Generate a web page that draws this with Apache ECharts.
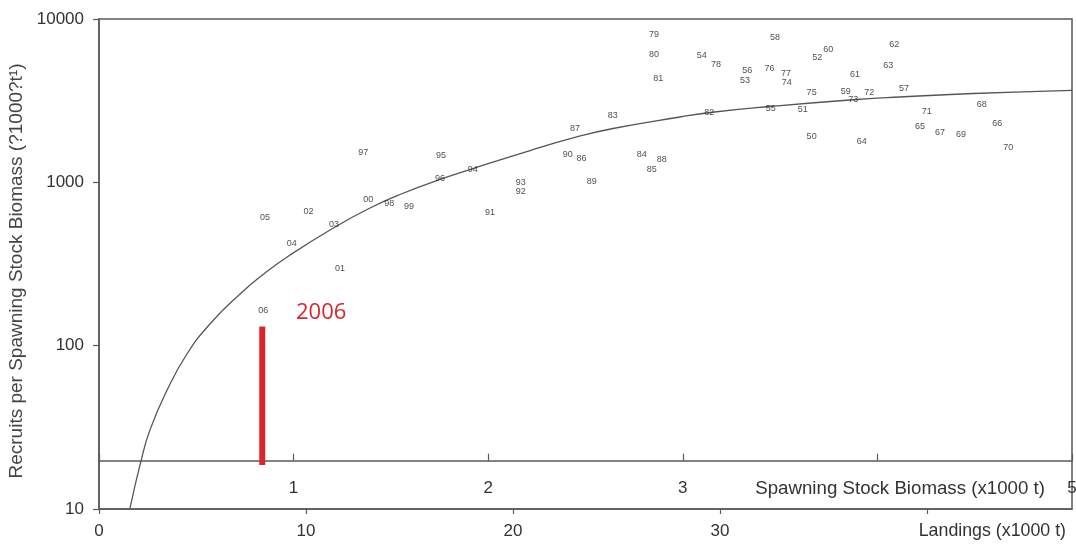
<!DOCTYPE html>
<html>
<head>
<meta charset="utf-8">
<script src="https://cdn.jsdelivr.net/npm/echarts@6/dist/echarts.min.js"></script>
<style>
html,body{margin:0;padding:0;background:#fff;}
#chart{width:1076px;height:544px;}
</style>
</head>
<body>
<div id="chart"></div>
<script>
// Year labels (plotted at Spawning Stock Biomass x1000 t vs Recruits per SSB)
const years = ['50','51','52','53','54','55','56','57','58','59',
               '60','61','62','63','64','65','66','67','68','69',
               '70','71','72','73','74','75','76','77','78','79',
               '80','81','82','83','84','85','86','87','88','89',
               '90','91','92','93','94','95','96','97','98','99',
               '00','01','02','03','04','05','06'];
const ssb = [3.662,3.616,3.691,3.320,3.097,3.452,3.331,4.137,3.474,3.837,
             3.748,3.885,4.087,4.056,3.919,4.219,4.616,4.322,4.536,4.430,
             4.673,4.253,3.958,3.876,3.534,3.662,3.446,3.530,3.171,2.852,
             2.852,2.874,3.136,2.640,2.789,2.840,2.480,2.446,2.892,2.532,
             2.409,2.009,2.167,2.167,1.920,1.757,1.752,1.358,1.492,1.593,
             1.384,1.238,1.076,1.208,0.990,0.853,0.844];
const rps = [1903,2786,5831,4191,5937,2825,4826,3728,7704,3573,
             6526,4541,6934,5157,1774,2191,2298,2013,2988,1949,
             1639,2723,3524,3206,4097,3524,4992,4652,5282,7980,
             6021,4335,2658,2548,1470,1202,1404,2142,1370,1009,
             1470,652,877,995,1202,1450,1059,1519,744,716,
             780,298,661,548,424,611,165];

// Fitted curve
const curveSSB = [0.159,0.216,0.262,0.350,0.452,0.570,0.725,0.853,0.982,1.213,
                  1.393,1.547,1.752,1.922,2.215,2.446,2.641,2.986,3.140,3.448,
                  3.859,4.116,4.491,5.0];
const curveRPS = [10.1,19.7,30.5,53.5,88.9,135.8,207.2,278.5,359.1,532.8,
                  696.5,842.6,1041,1215,1566,1882,2136,2512,2677,2913,
                  3193,3331,3499,3661];

// 2006 red bar
const bar2006SSB = [0.839, 0.839];
const bar2006RPS = [18.6, 131];
const bar2006Label = '2006';

// Axes
const yTicks = [10, 100, 1000, 10000];
const ssbMax = 5;
const landingsMax = 47;
const yTitle = 'Recruits per Spawning Stock Biomass (?1000?t\u00b9)';
const ssbTitle = 'Spawning Stock Biomass (x1000 t)';
const landTitle = 'Landings (x1000 t)';

const FONT = '"Liberation Sans", Arial, sans-serif';
const axisColor = '#5a5a5a';

const chart = echarts.init(document.getElementById('chart'));
const option = {
  animation: false,
  backgroundColor: '#fff',
  grid: {left: 99, right: 4, top: 19, bottom: 35, show: true,
         borderColor: axisColor, borderWidth: 1.5, containLabel: false,
         outerBoundsMode: 'none'},
  xAxis: [
    {
      type: 'value', min: 0, max: ssbMax, interval: 1,
      position: 'bottom', offset: -48.3,
      axisLine: {show: true, onZero: false, lineStyle: {color: axisColor, width: 1.5}},
      axisTick: {show: true, inside: true, length: 7, lineStyle: {color: axisColor, width: 1.2}},
      axisLabel: {
        margin: 19, fontSize: 17, color: '#333', fontFamily: FONT,
        showMaxLabel: true, showMinLabel: true,
        formatter: v => (v === 0 || v === 4) ? '' : String(v)
      },
      splitLine: {show: false}
    },
    {
      type: 'value', min: 0, max: landingsMax, interval: 10,
      position: 'bottom',
      axisLine: {show: true, onZero: false, lineStyle: {color: axisColor, width: 1.5}},
      axisTick: {show: true, length: 5, lineStyle: {color: axisColor, width: 1.2}},
      axisLabel: {
        margin: 14, fontSize: 17, color: '#333', fontFamily: FONT,
        showMaxLabel: false,
        formatter: v => (v === 40) ? '' : String(v)
      },
      splitLine: {show: false}
    }
  ],
  yAxis: {
    type: 'log', logBase: 10, min: yTicks[0], max: yTicks[yTicks.length - 1],
    axisLine: {show: true, onZero: false, lineStyle: {color: axisColor, width: 1.5}},
    axisTick: {show: true, length: 6, lineStyle: {color: axisColor, width: 1.2}},
    axisLabel: {margin: 15, fontSize: 17, color: '#333', fontFamily: FONT,
                formatter: v => String(Math.round(v))},
    splitLine: {show: false},
    minorTick: {show: false},
    name: yTitle, nameLocation: 'middle', nameGap: 72,
    nameTextStyle: {fontSize: 19, color: '#444', fontFamily: FONT,
                    padding: [0, 14, 0, 0]}
  },
  series: [
    {
      type: 'line', xAxisIndex: 0, yAxisIndex: 0,
      data: curveSSB.map((x, i) => [x, curveRPS[i]]),
      smooth: 0.5, showSymbol: false, symbol: 'none',
      lineStyle: {color: '#555', width: 1.3},
      silent: true, clip: true, z: 2
    },
    {
      type: 'line', xAxisIndex: 0, yAxisIndex: 0,
      data: bar2006SSB.map((x, i) => [x, bar2006RPS[i]]),
      showSymbol: false, symbol: 'none',
      lineStyle: {color: '#d9262e', width: 6, cap: 'butt'},
      silent: true, z: 3
    },
    {
      type: 'scatter', xAxisIndex: 0, yAxisIndex: 0,
      data: years.map((y, i) => ({name: y, value: [ssb[i], rps[i]]})),
      symbolSize: 1,
      itemStyle: {color: 'rgba(0,0,0,0)'},
      label: {show: true, position: 'inside', formatter: '{b}',
              fontSize: 9, color: '#222', fontFamily: FONT},
      z: 4
    }
  ],
  graphic: [
    {type: 'text', x: 1045, y: 489, z: 10,
     style: {text: ssbTitle, align: 'right', verticalAlign: 'middle',
             font: '18.7px ' + FONT, fill: '#333'}},
    {type: 'text', x: 1066, y: 531, z: 10,
     style: {text: landTitle, align: 'right', verticalAlign: 'middle',
             font: '17.8px ' + FONT, fill: '#333'}},
    {type: 'text', x: 296, y: 313, z: 10,
     style: {text: bar2006Label, align: 'left', verticalAlign: 'middle',
             font: '22px "Open Sans", "Noto Sans", sans-serif', fill: '#d9262e'}}
  ]
};
chart.setOption(option);
</script>
</body>
</html>
